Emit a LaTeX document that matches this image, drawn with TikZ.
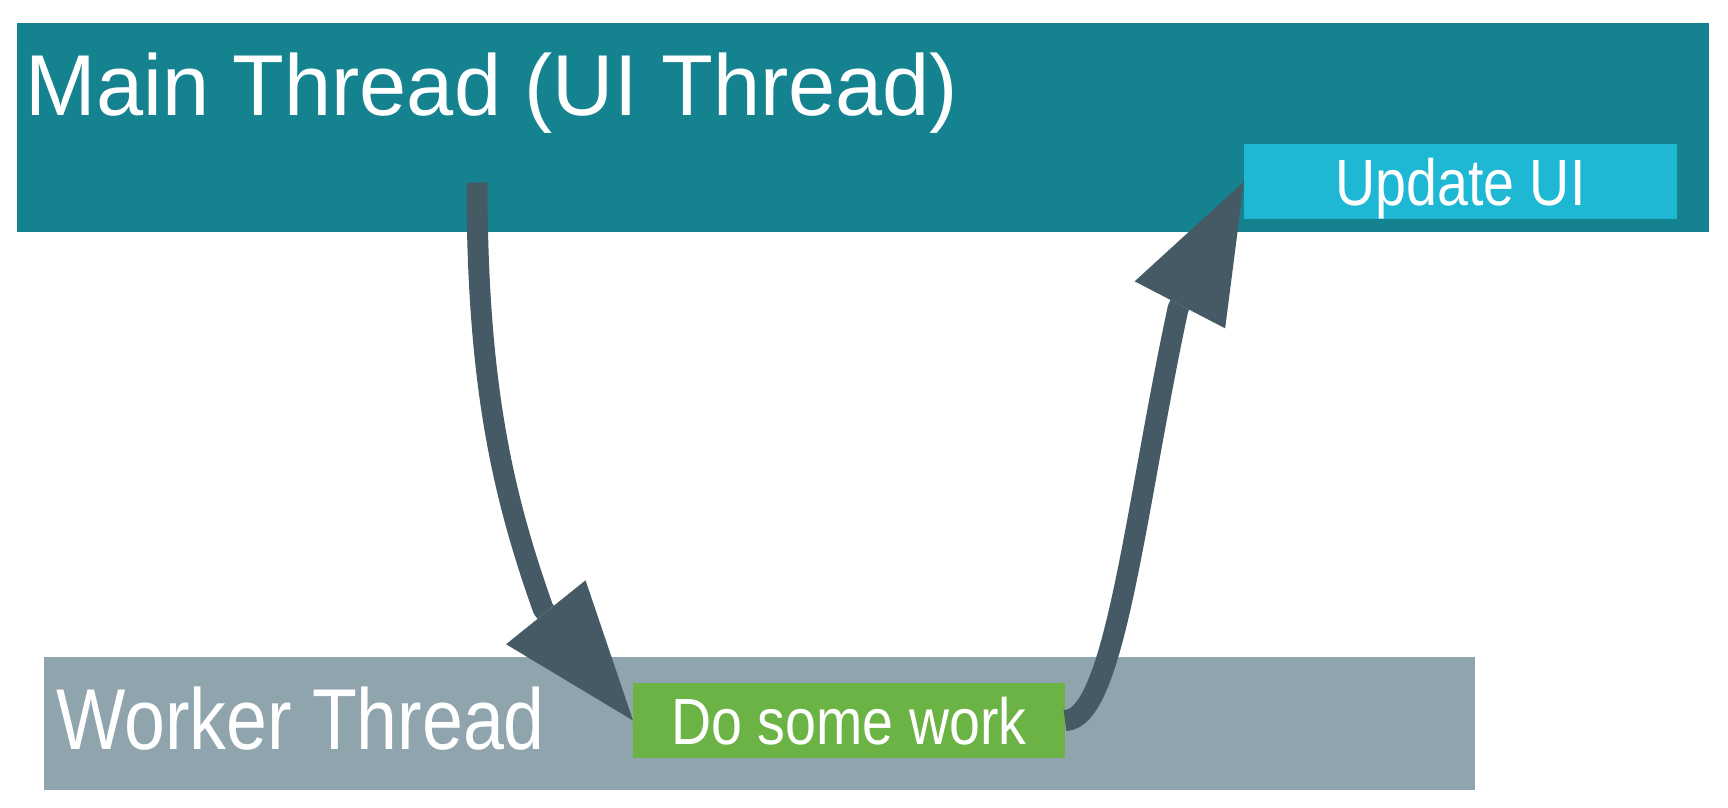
\documentclass[tikz,border=0pt]{standalone}
\usepackage{fontspec}
\setmainfont{Liberation Sans}
\newfontfamily\titlefont[FakeStretch=0.98]{Liberation Sans}
\newfontfamily\condfont[FakeStretch=0.85]{Liberation Sans}
\usepackage{tikz}
\usepackage{xcolor}
\usetikzlibrary{arrows.meta}
\definecolor{thmain}{HTML}{14838F}
\definecolor{thworker}{HTML}{90A4AE}
\definecolor{taskui}{HTML}{1FB8D4}
\definecolor{taskwork}{HTML}{6BB344}
\definecolor{tharrow}{HTML}{455A64}
\tikzset{
  tbox/.style     = {rectangle, inner sep=0pt, outer sep=0pt},
  tlabel/.style   = {inner sep=0pt, anchor=base west, text=white,
                     font=\titlefont\fontsize{24.6}{29}\selectfont},
  wlabel/.style   = {inner sep=0pt, anchor=base west, text=white,
                     font=\condfont\fontsize{24.6}{29}\selectfont},
  taskbox/.style  = {rectangle, inner sep=0pt, outer sep=0pt,
                     minimum width=4.33cm, minimum height=0.75cm,
                     text height=0.47cm, text depth=0pt, text=white,
                     font=\condfont\fontsize{18.6}{22}\selectfont},
  tarrow/.style   = {-{Triangle[length=1.39cm,width=1.02cm,line width=0pt]},
                     line width=0.21cm, line join=round, draw=tharrow},
}

\begin{document}
\begin{tikzpicture}
\useasboundingbox (0,0) rectangle (17.28,-8.08);

% Thread boxes
\node[tbox, fill=thmain, minimum width=16.91cm, minimum height=2.095cm] (main) at (8.63,-1.2725) {};
\node[tbox, fill=thworker, minimum width=14.305cm, minimum height=1.33cm] (worker) at (7.5925,-7.235) {};

% Thread labels
\node[tlabel] (maintitle) at (0.25,-1.15) {Main Thread (UI Thread)};
\node[wlabel] (workertitle) at (0.555,-7.49) {Worker Thread};

% Tasks
\node[taskbox, fill=taskui] (update) at (14.605,-1.815) {Update UI};
\node[taskbox, fill=taskwork, minimum width=4.32cm] (work) at (8.49,-7.205) {Do some work};

% Hand-off and back (tip turns just behind the head)
\coordinate (mainstart) at (4.77,-1.825);
\draw[tarrow] (mainstart) .. controls +(0,-2.0) and +(-0.41,1.15)
  .. ([shift={(-0.898,1.115)}]work.west) -- (work.west);
\draw[tarrow] (work.east) .. controls +(0.5,0) and +(-0.43,-2.0)
  .. ([shift={(-0.659,-1.268)}]update.west) -- (update.west);
\end{tikzpicture}
\end{document}
